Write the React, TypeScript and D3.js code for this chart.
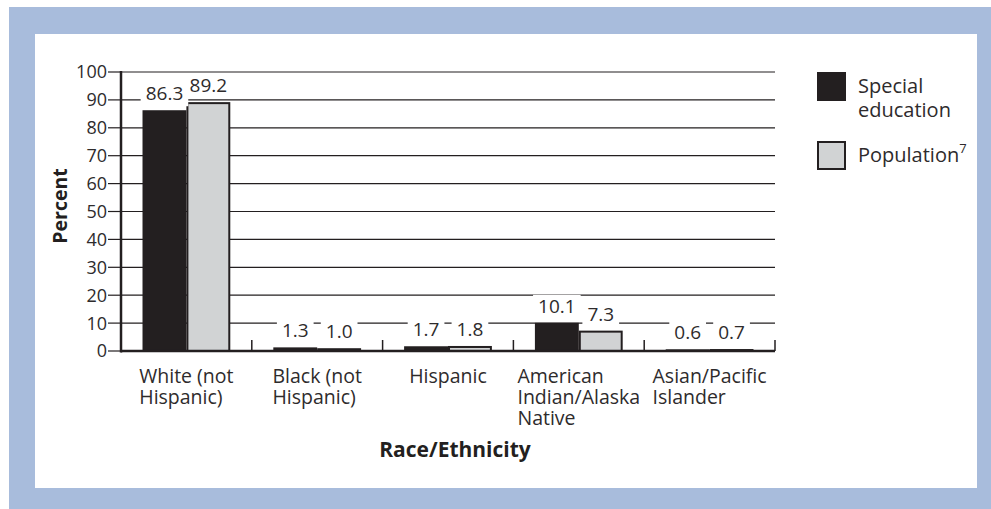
import React, { useEffect, useRef } from "react";
import * as d3 from "d3";

const categoryLines: string[][] = [
  ["White (not", "Hispanic)"],
  ["Black (not", "Hispanic)"],
  ["Hispanic"],
  ["American", "Indian/Alaska", "Native"],
  ["Asian/Pacific", "Islander"],
];
const specialEducation = [86.3, 1.3, 1.7, 10.1, 0.6];
const population = [89.2, 1.0, 1.8, 7.3, 0.7];
const yTicks = [0, 10, 20, 30, 40, 50, 60, 70, 80, 90, 100];
const seriesKeys = ["special", "population"];

const W = 991;
const H = 509;
const FONT = "'Open Sans', 'Noto Sans', sans-serif";
const INK = "#231f20";
const GRAY = "#d1d3d4";
const BLUE = "#a8bcdc";
const TEXT = "#2e2b2c";

export default function App() {
  const ref = useRef<SVGSVGElement | null>(null);

  useEffect(() => {
    document.body.style.margin = "0";
    const svg = d3.select(ref.current);
    svg.selectAll("*").remove();

    // frame
    svg.append("rect").attr("x", 9).attr("y", 7).attr("width", W - 9).attr("height", H - 7).attr("fill", BLUE);
    svg.append("rect").attr("x", 35).attr("y", 34).attr("width", 942).attr("height", 454).attr("fill", "#fff");

    const left = 121, right = 775, top = 72, bottom = 351;
    const y = d3.scaleLinear().domain([0, 100]).range([bottom, top]);
    const idx = categoryLines.map((_, i) => String(i));
    const x0 = d3.scaleBand().domain(idx).range([left, right]).padding(0);
    const x1 = d3.scaleBand().domain(seriesKeys).range([0, x0.bandwidth()]).paddingInner(0).paddingOuter(0.49);

    const g = svg.append("g");

    // gridlines
    g.selectAll("line.grid")
      .data(yTicks.filter((t) => t > 0))
      .join("line")
      .attr("x1", left).attr("x2", right)
      .attr("y1", (d) => y(d)).attr("y2", (d) => y(d))
      .attr("stroke", INK).attr("stroke-width", 1.2);

    // bars
    const data = idx.map((k, i) => ({ k, vals: [specialEducation[i], population[i]] }));
    const groups = g.selectAll("g.grp").data(data).join("g").attr("transform", (d) => `translate(${x0(d.k)},0)`);
    groups.selectAll("rect.bar")
      .data((d) => d.vals.map((v, j) => ({ v, s: seriesKeys[j] })))
      .join("rect")
      .attr("x", (d) => (x1(d.s) as number) + (d.s === "population" ? 1 : 0))
      .attr("width", (d) => x1.bandwidth() - (d.s === "population" ? 2 : 0))
      .attr("y", (d) => y(d.v) + (d.s === "population" ? 1 : 0))
      .attr("height", (d) => Math.max(0, bottom - y(d.v) - (d.s === "population" ? 1 : 0)))
      .attr("fill", (d) => (d.s === "special" ? INK : GRAY))
      .attr("stroke", (d) => (d.s === "special" ? "none" : INK))
      .attr("stroke-width", 2);

    // value labels with white backgrounds that break the gridlines
    const labels = groups.selectAll("g.lab")
      .data((d) => d.vals.map((v, j) => ({ v, s: seriesKeys[j] })))
      .join("g");
    labels.append("rect").attr("fill", "#fff");
    labels.append("text")
      .attr("x", (d) => (x1(d.s) as number) + x1.bandwidth() / 2)
      .attr("y", (d) => y(d.v) - 10)
      .attr("text-anchor", "middle")
      .attr("font-family", FONT).attr("font-size", 19).attr("fill", TEXT)
      .text((d) => d.v.toFixed(1));
    labels.each(function () {
      const grp = d3.select(this);
      const bb = (grp.select("text").node() as SVGTextElement).getBBox();
      grp.select("rect")
        .attr("x", bb.x - 5).attr("width", bb.width + 10)
        .attr("y", bb.y + 2).attr("height", bb.height - 2);
    });

    // axes
    g.append("line").attr("x1", left).attr("x2", left).attr("y1", top - 1).attr("y2", bottom + 1.5)
      .attr("stroke", INK).attr("stroke-width", 2.5);
    g.append("line").attr("x1", left).attr("x2", right).attr("y1", bottom).attr("y2", bottom)
      .attr("stroke", INK).attr("stroke-width", 2.5);
    g.selectAll("line.ytick").data(yTicks).join("line")
      .attr("x1", left - 13).attr("x2", left)
      .attr("y1", (d) => y(d)).attr("y2", (d) => y(d))
      .attr("stroke", INK).attr("stroke-width", 1.2);
    g.selectAll("text.ylab").data(yTicks).join("text")
      .attr("x", left - 14).attr("y", (d) => y(d)).attr("dy", "0.36em")
      .attr("text-anchor", "end")
      .attr("font-family", FONT).attr("font-size", 18).attr("fill", TEXT)
      .text((d) => String(d));
    g.selectAll("line.xtick").data(idx).join("line")
      .attr("x1", (d) => (x0(d) as number) + x0.bandwidth()).attr("x2", (d) => (x0(d) as number) + x0.bandwidth())
      .attr("y1", bottom).attr("y2", bottom - 11)
      .attr("stroke", INK).attr("stroke-width", 1.5);

    // category labels: a left-aligned block centred under each group
    const cl = g.selectAll("g.cat").data(categoryLines).join("g");
    cl.each(function (lines) {
      const grp = d3.select(this);
      lines.forEach((ln, i) => {
        grp.append("text")
          .attr("x", 0).attr("y", 383 + i * 21)
          .attr("font-family", FONT).attr("font-size", 19.5).attr("fill", TEXT)
          .text(ln);
      });
    });
    cl.each(function (_, i) {
      const bb = (this as SVGGElement).getBBox();
      const c = (x0(idx[i]) as number) + x0.bandwidth() / 2;
      const tx = Math.min(c - bb.width / 2, right - bb.width + 4);
      d3.select(this).attr("transform", `translate(${tx},0)`);
    });

    // axis titles
    g.append("text")
      .attr("transform", `translate(67,206) rotate(-90)`)
      .attr("text-anchor", "middle")
      .attr("font-family", FONT).attr("font-size", 19.5).attr("font-weight", 700).attr("fill", INK)
      .text("Percent");
    g.append("text")
      .attr("x", 455).attr("y", 457)
      .attr("text-anchor", "middle")
      .attr("font-family", FONT).attr("font-size", 21).attr("font-weight", 700).attr("fill", INK)
      .text("Race/Ethnicity");

    // legend
    const lg = svg.append("g");
    lg.append("rect").attr("x", 817).attr("y", 72).attr("width", 29).attr("height", 29).attr("fill", INK);
    lg.append("rect").attr("x", 818).attr("y", 142).attr("width", 27).attr("height", 27)
      .attr("fill", GRAY).attr("stroke", INK).attr("stroke-width", 2);
    lg.append("text").attr("x", 858).attr("y", 93)
      .attr("font-family", FONT).attr("font-size", 20).attr("fill", TEXT).text("Special");
    lg.append("text").attr("x", 858).attr("y", 117)
      .attr("font-family", FONT).attr("font-size", 20).attr("fill", TEXT).text("education");
    const t2 = lg.append("text").attr("x", 858).attr("y", 162)
      .attr("font-family", FONT).attr("font-size", 20).attr("fill", TEXT);
    t2.append("tspan").text("Population");
    t2.append("tspan").attr("dy", -9).attr("font-size", 13).text("7");
  }, []);

  return <svg ref={ref} width={W} height={H} style={{ display: "block" }} />;
}
